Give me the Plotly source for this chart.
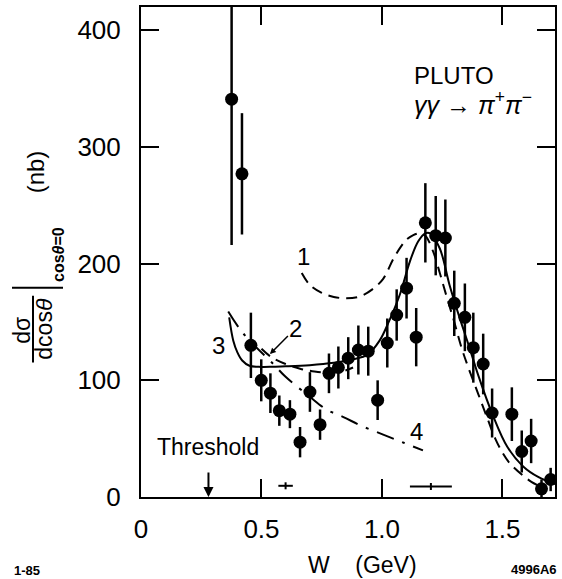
import plotly.graph_objects as go

# ---- data points (W in GeV, dsigma/dcos in nb) ----
w_pts = [0.376, 0.419, 0.456, 0.499, 0.537, 0.574, 0.618, 0.660, 0.701, 0.743,
         0.780, 0.819, 0.860, 0.902, 0.943, 0.982, 1.022, 1.061, 1.102, 1.142,
         1.180, 1.223, 1.263, 1.300, 1.344, 1.379, 1.420, 1.457, 1.539, 1.580,
         1.619, 1.662, 1.700]
sig_pts = [341, 277, 130, 100, 89, 74, 71, 47, 90, 62,
           106, 111, 119, 126, 125, 83, 132, 156, 179, 137,
           235, 224, 222, 166, 154, 128, 114, 72, 71, 39,
           48, 7, 15]
sig_err = [125, 52, 28, 18, 17, 13, 12, 13, 17, 13,
           17, 18, 18, 21, 21, 17, 21, 22, 26, 25,
           34, 34, 33, 28, 29, 30, 26, 21, 23, 18,
           19, 8, 10]

# ---- theory curves ----
w_c1 = [0.667, 0.70, 0.75, 0.80, 0.853, 0.909, 0.96, 1.005, 1.047, 1.08, 1.102, 1.13, 1.158,
        1.18, 1.213, 1.24, 1.268, 1.30, 1.33, 1.36, 1.40, 1.44, 1.47, 1.50, 1.53, 1.587, 1.62, 1.656]
s_c1 = [192, 182, 175, 171.5, 170.3, 172, 178, 187, 204, 215, 220.6, 224.5, 226,
        224, 210, 192, 172, 150, 128, 110, 88, 66, 50, 38, 29, 18, 13, 9]

w_c2 = [0.50, 0.54, 0.60, 0.66, 0.72, 0.78, 0.84, 0.88]
s_c2 = [127, 120, 114, 110, 107.5, 106.5, 108, 111]

w_c3 = [0.366, 0.383, 0.40, 0.42, 0.45, 0.50, 0.55, 0.60, 0.70, 0.80, 0.88, 0.94, 0.99,
        1.03, 1.075, 1.116, 1.15, 1.18, 1.20, 1.24, 1.28, 1.32, 1.36, 1.40, 1.46, 1.52,
        1.587, 1.65, 1.718]
s_c3 = [154, 134, 124, 117, 112.5, 111.5, 111.7, 112, 113, 115, 118, 122, 134,
        151, 174, 202, 219, 226, 226, 213, 182, 155, 130, 104, 70, 43,
        26, 17, 11]

w_c4 = [0.362, 0.425, 0.549, 0.60, 0.70, 0.77, 0.84, 0.92, 1.005, 1.09, 1.17]
s_c4 = [159, 140, 114, 103, 86, 75, 68.5, 60.5, 53.5, 46.5, 40]

# resolution bars
w_res = [0.60, 1.203]
s_res = [9.6, 9.0]
w_res_err = [0.03, 0.087]
s_res_err = [3, 3]

threshold_w = 0.28

fig = go.Figure()

fig.add_trace(go.Scatter(x=w_c1, y=s_c1, mode="lines", line_shape="spline",
                         line=dict(color="black", width=2, dash="11px,7px")))
fig.add_trace(go.Scatter(x=w_c2, y=s_c2, mode="lines", line_shape="spline",
                         line=dict(color="black", width=2, dash="11px,7px")))
fig.add_trace(go.Scatter(x=w_c3, y=s_c3, mode="lines", line_shape="spline",
                         line=dict(color="black", width=2)))
fig.add_trace(go.Scatter(x=w_c4, y=s_c4, mode="lines", line_shape="spline",
                         line=dict(color="black", width=2, dash="18px,9px,3px,9px")))

fig.add_trace(go.Scatter(
    x=w_pts, y=sig_pts, mode="markers",
    marker=dict(size=13, color="black"),
    error_y=dict(type="data", array=sig_err, thickness=2.5, width=0, color="black")))

fig.add_trace(go.Scatter(
    x=w_res, y=s_res, mode="markers", marker=dict(size=1, color="black"),
    error_x=dict(type="data", array=w_res_err, thickness=2, width=0, color="black"),
    error_y=dict(type="data", array=s_res_err, thickness=2, width=0, color="black")))

axis_common = dict(showgrid=False, zeroline=False, showline=True, linewidth=2,
                   linecolor="black", mirror="ticks", ticks="inside", ticklen=18,
                   tickwidth=2, tickcolor="black",
                   tickfont=dict(family="Liberation Sans", size=26, color="black"))

fig.update_layout(
    width=562, height=579,
    margin=dict(l=141, r=7, t=5, b=82),
    paper_bgcolor="white", plot_bgcolor="white",
    showlegend=False,
    font=dict(family="Liberation Sans", color="black"),
    xaxis=dict(range=[0, 1.718], tickvals=[0, 0.5, 1.0, 1.5],
               ticktext=["0", "0.5", "1.0", "1.5"], ticklabelstandoff=8, **axis_common),
    yaxis=dict(range=[0, 420], tickvals=[0, 100, 200, 300, 400],
               ticktext=["0", "100", "200", "300", "400"], ticklabelstandoff=13, **axis_common),
)

ann = []
def txt(x, y, s, size, xref="x", yref="y", angle=0, xanchor="center", bold=False):
    ann.append(dict(x=x, y=y, xref=xref, yref=yref, text=("<b>%s</b>" % s) if bold else s,
                    showarrow=False, textangle=angle, xanchor=xanchor, yanchor="middle",
                    font=dict(family="Liberation Sans", size=size, color="black")))

txt(1.123, 361, "PLUTO", 24, xanchor="left")
txt(1.123, 338, "<i>γγ</i> <b>→</b> <i>π</i><sup>+</sup><i>π</i><sup>−</sup>", 25, xanchor="left")
txt(0.058, 43, "Threshold", 23, xanchor="left")
txt(0.673, 206, "1", 24)
txt(0.32, 130, "3", 24)
txt(1.144, 56, "4", 24)
ann.append(dict(x=0.535, y=122.5, xref="x", yref="y", text="2", showarrow=True,
                ax=26, ay=-26, arrowhead=2, arrowsize=0.8, arrowwidth=1.5, arrowcolor="black",
                font=dict(family="Liberation Sans", size=24, color="black")))
# threshold arrow
ann.append(dict(x=threshold_w, y=0, xref="x", yref="y", text=" ", showarrow=True,
                ax=0, ay=-27, arrowhead=2, arrowsize=1, arrowwidth=2, arrowcolor="black",
                font=dict(size=2)))

# y-axis title pieces (paper coordinates)
def px(xp):
    return (xp - 141) / 414.0
def py(yp):
    return (497 - yp) / 492.0

txt(px(35), py(170), "(nb)", 24, xref="paper", yref="paper", angle=-90)
txt(px(22), py(330), "dσ", 23, xref="paper", yref="paper", angle=-90)
txt(px(44), py(328), "dcos<i>θ</i>", 23, xref="paper", yref="paper", angle=-90)
txt(px(59), py(254), "cos<i>θ</i>=0", 16, xref="paper", yref="paper", angle=-90, bold=True)

# x title & footers
txt(px(362), py(565), "W    (GeV)", 23, xref="paper", yref="paper")
txt(px(27), py(571), "1-85", 13, xref="paper", yref="paper", bold=True)
txt(px(534), py(570), "4996A6", 13, xref="paper", yref="paper", bold=True)

fig.update_layout(annotations=ann)

fig.add_shape(type="line", xref="paper", yref="paper",
              x0=px(33), x1=px(33), y0=py(295), y1=py(362), line=dict(color="black", width=2))
fig.add_shape(type="line", xref="paper", yref="paper",
              x0=px(12), x1=px(63), y0=py(287), y1=py(287), line=dict(color="black", width=2))

fig.write_html("out.html", config={"displayModeBar": False},
               post_script="document.body.style.margin='0';document.body.style.padding='0';")
